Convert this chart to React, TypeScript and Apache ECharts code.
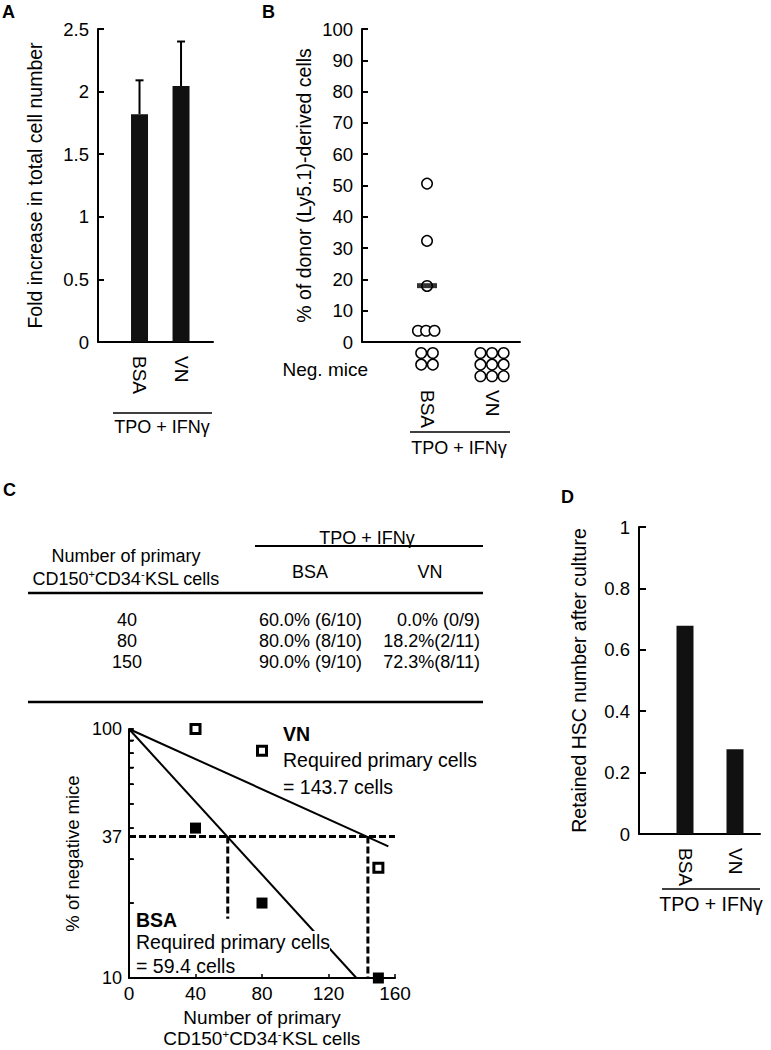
import React, { useEffect, useRef } from "react";
import * as echarts from "echarts";

const FONT = "'Liberation Sans', Arial, Helvetica, sans-serif";

// ---------- Panel A ----------
const catsA = ["BSA", "VN"];
const foldMean = [1.82, 2.045];
const foldSD = [0.27, 0.355];

// ---------- Panel B ----------
const catsB = ["BSA", "VN"];
const donorBSA = [50.6, 32.3, 17.9, 3.6, 3.6, 3.6];
const donorBSAJitter = [0, 0, 0, -0.14, -0.015, 0.115];
const donorBSAMedian = [18.0];
const negMice = [4, 9];

// ---------- Panel C (table) ----------
const cellDoses = [40, 80, 150];
const tableBSA = ["60.0% (6/10)", "80.0% (8/10)", "90.0% (9/10)"];
const tableVN = ["0.0% (0/9)", "18.2%(2/11)", "72.3%(8/11)"];

// ---------- Panel C (limiting dilution plot) ----------
const bsaNegPct = [40, 20, 10];
const vnNegPct = [100, 81.8, 27.7];
const bsaFit = [[0, 100], [136.8, 10]];
const vnFit = [[0, 100], [156, 33.8]];
const bsaRequired = 59.4;
const vnRequired = 143.7;
const level37 = 37;
const bsaDropEnd = 17.3;
const yTicksC = [10, 20, 30, 37, 40, 50, 60, 70, 80, 90, 100];
const yLabelsC = [10, 37, 100];

// ---------- Panel D ----------
const catsD = ["BSA", "VN"];
const retained = [0.678, 0.276];

const BLACK = "#000";
const lineStyle2 = { color: BLACK, width: 2 };

function yAxisBase(extra: any) {
  return {
    type: "value",
    axisLine: { show: true, lineStyle: lineStyle2 },
    axisTick: { show: true, inside: true, length: 6, lineStyle: lineStyle2 },
    axisLabel: { fontSize: 18.5, color: BLACK, margin: 9, fontFamily: FONT },
    splitLine: { show: false },
    nameLocation: "middle",
    nameRotate: 90,
    nameTextStyle: { fontSize: 19.5, color: BLACK, fontFamily: FONT },
    ...extra,
  };
}

function catXAxis(gridIndex: number, cats: string[], min: number, max: number, margin: number) {
  return {
    gridIndex,
    type: "value",
    min,
    max,
    axisLine: { show: true, onZero: false, lineStyle: lineStyle2 },
    axisTick: { show: false },
    splitLine: { show: false },
    axisLabel: {
      customValues: cats.map((_, i) => i + 1),
      formatter: (v: number) => cats[Math.round(v) - 1] ?? "",
      rotate: -90,
      margin,
      fontSize: 19,
      color: BLACK,
      fontFamily: FONT,
    },
  };
}

function txt(text: string, x: number, y: number, opts: any = {}) {
  const { size = 18, weight = "normal", align = "left", vAlign = "middle", bg, rich } = opts;
  return {
    type: "text",
    z: 100,
    style: {
      text,
      x,
      y,
      fill: BLACK,
      fontSize: size,
      fontWeight: weight,
      fontFamily: FONT,
      align,
      verticalAlign: vAlign,
      backgroundColor: bg,
      padding: bg ? [1, 0, 1, 0] : undefined,
      rich,
    },
  };
}

function hline(x1: number, x2: number, y: number, w = 1.6) {
  return {
    type: "line",
    z: 100,
    shape: { x1, y1: y, x2, y2: y },
    style: { stroke: BLACK, lineWidth: w },
  };
}

export default function App() {
  const ref = useRef<HTMLDivElement>(null);

  useEffect(() => {
    if (!ref.current) return;
    const chart = echarts.init(ref.current, undefined, { renderer: "svg" });

    const supRich = {
      n: { fontSize: 18, fontFamily: FONT, color: BLACK, lineHeight: 21 },
      s: { fontSize: 11, fontFamily: FONT, color: BLACK, verticalAlign: "top", lineHeight: 21 },
    };
    const supRichC = {
      n: { fontSize: 19, fontFamily: FONT, color: BLACK, lineHeight: 21 },
      s: { fontSize: 11.5, fontFamily: FONT, color: BLACK, verticalAlign: "top", lineHeight: 21 },
    };
    const cellLabelRich = "{n|CD150}{s|+}{n|CD34}{s|-}{n|KSL cells}";

    const graphics: any[] = [
      // panel letters
      txt("A", 2, 12, { size: 18, weight: "bold" }),
      txt("B", 262, 12, { size: 18, weight: "bold" }),
      txt("C", 3, 490, { size: 18, weight: "bold" }),
      txt("D", 561, 497, { size: 18, weight: "bold" }),
      // A bracket
      hline(113, 212, 413),
      txt("TPO + IFNγ", 162, 427, { size: 18, align: "center" }),
      // B bracket
      hline(410, 510, 432),
      txt("TPO + IFNγ", 459, 448, { size: 18, align: "center" }),
      txt("Neg. mice", 368, 369, { size: 19, align: "right" }),
      // D bracket
      hline(662, 760, 889),
      txt("TPO + IFNγ", 711, 904, { size: 19.5, align: "center" }),
      // Table
      txt("TPO + IFNγ", 367, 538, { size: 18, align: "center" }),
      hline(255, 483, 546, 2),
      txt("Number of primary", 126, 556, { size: 18, align: "center" }),
      txt(cellLabelRich, 126, 579, { size: 18, align: "center", rich: supRich }),
      txt("BSA", 310, 572, { size: 18, align: "center" }),
      txt("VN", 430, 572, { size: 18, align: "center" }),
      hline(28, 483, 593, 2.6),
      hline(28, 483, 702, 2.6),
      // C plot annotations
      txt("VN", 283, 734, { size: 19.5, weight: "bold" }),
      txt("Required primary cells", 283, 760, { size: 19.5 }),
      txt(`= ${vnRequired} cells`, 283, 787, { size: 19.5 }),
      txt("BSA", 136, 920, { size: 19.5, weight: "bold" }),
      txt("Required primary cells", 136, 942, { size: 19.5, bg: "#fff" }),
      txt(`= ${bsaRequired} cells`, 136, 966, { size: 19.5 }),
    ];
    cellDoses.forEach((d, i) => {
      const y = 620 + i * 21;
      graphics.push(txt(String(d), 127, y, { size: 18, align: "center" }));
      graphics.push(txt(tableBSA[i], 362, y, { size: 18, align: "right" }));
      graphics.push(txt(tableVN[i], 480, y, { size: 18, align: "right" }));
    });

    const dashStyle = { color: BLACK, width: 3, type: [7, 3] as any };

    const option: any = {
      animation: false,
      backgroundColor: "#fff",
      textStyle: { fontFamily: FONT, color: BLACK },
      grid: [
        { left: 98, top: 29, width: 115, height: 313 },
        { left: 362, top: 29, width: 158, height: 313 },
        { left: 129, top: 729, width: 266, height: 251 },
        { left: 639, top: 527, width: 121, height: 307 },
      ],
      xAxis: [
        catXAxis(0, catsA, 0, 2.77, 14),
        catXAxis(1, catsB, 0, 2.43, 48),
        {
          gridIndex: 2,
          type: "value",
          min: 0,
          max: 160,
          interval: 40,
          axisLine: { show: true, onZero: false, lineStyle: lineStyle2 },
          axisTick: { show: true, inside: true, length: 4, lineStyle: { color: BLACK, width: 1.5 } },
          splitLine: { show: false },
          axisLabel: { fontSize: 19, color: BLACK, margin: 6, fontFamily: FONT },
          name: "Number of primary\n" + cellLabelRich,
          nameLocation: "middle",
          nameGap: 29,
          nameTextStyle: { fontSize: 19, color: BLACK, fontFamily: FONT, lineHeight: 21, rich: supRichC },
        },
        catXAxis(3, catsD, 0.08, 2.5, 14),
      ],
      yAxis: [
        yAxisBase({ gridIndex: 0, min: 0, max: 2.5, interval: 0.5, name: "Fold increase in total cell number", nameGap: 53 }),
        yAxisBase({ gridIndex: 1, min: 0, max: 100, interval: 10, name: "% of donor (Ly5.1)-derived cells", nameGap: 48 }),
        {
          gridIndex: 2,
          type: "log",
          logBase: 10,
          min: 10,
          max: 100,
          axisLine: { show: true, onZero: false, lineStyle: lineStyle2 },
          axisTick: { show: true, inside: true, length: 4, customValues: yTicksC, lineStyle: { color: BLACK, width: 1.5 } },
          minorTick: { show: false },
          splitLine: { show: false },
          axisLabel: {
            customValues: yLabelsC,
            formatter: (v: number) => String(Math.round(v)),
            fontSize: 18,
            color: BLACK,
            margin: 7,
            fontFamily: FONT,
          },
          name: "% of negative mice",
          nameLocation: "middle",
          nameRotate: 90,
          nameGap: 47,
          nameTextStyle: { fontSize: 18.5, color: BLACK, fontFamily: FONT },
        },
        yAxisBase({ gridIndex: 3, min: 0, max: 1, interval: 0.2, name: "Retained HSC number after culture", nameGap: 50, axisTick: { show: true, inside: true, length: 7, lineStyle: lineStyle2 } }),
      ],
      series: [
        // Panel A bars
        {
          type: "bar",
          xAxisIndex: 0,
          yAxisIndex: 0,
          barWidth: 17,
          itemStyle: { color: "#111" },
          data: foldMean.map((v, i) => [i + 1, v]),
        },
        // Panel A error bars
        {
          type: "custom",
          xAxisIndex: 0,
          yAxisIndex: 0,
          z: 3,
          data: foldMean.map((v, i) => [i + 1, v, v + foldSD[i]]),
          renderItem: (_p: any, api: any) => {
            const x = api.value(0);
            const lo = api.coord([x, api.value(1)]);
            const hi = api.coord([x, api.value(2)]);
            return {
              type: "group",
              children: [
                { type: "line", shape: { x1: lo[0], y1: lo[1], x2: hi[0], y2: hi[1] }, style: { stroke: BLACK, lineWidth: 2 } },
                { type: "line", shape: { x1: hi[0] - 4, y1: hi[1], x2: hi[0] + 4, y2: hi[1] }, style: { stroke: BLACK, lineWidth: 2 } },
              ],
            };
          },
        },
        // Panel B individual mice
        {
          type: "scatter",
          xAxisIndex: 1,
          yAxisIndex: 1,
          symbol: "circle",
          symbolSize: 10.5,
          itemStyle: { color: "#fff", borderColor: BLACK, borderWidth: 1.5, opacity: 1 },
          data: donorBSA.map((v, i) => [1 + donorBSAJitter[i], v]),
          z: 2,
        },
        // Panel B median
        {
          type: "scatter",
          xAxisIndex: 1,
          yAxisIndex: 1,
          symbol: "rect",
          symbolSize: [20, 5],
          itemStyle: { color: BLACK },
          data: donorBSAMedian.map((v) => [1, v]),
          z: 4,
        },
        // Panel B negative mice
        {
          type: "custom",
          xAxisIndex: 1,
          yAxisIndex: 1,
          clip: false,
          data: negMice.map((n, i) => [i + 1, n]),
          renderItem: (_p: any, api: any) => {
            const x = api.value(0);
            const n = api.value(1);
            const cols = Math.ceil(Math.sqrt(n));
            const base = api.coord([x, 0]);
            const sp = 11.6;
            const children: any[] = [];
            for (let k = 0; k < n; k++) {
              const row = Math.floor(k / cols);
              const col = k % cols;
              children.push({
                type: "circle",
                shape: { cx: base[0] + (col - (cols - 1) / 2) * sp, cy: base[1] + 11 + row * sp, r: 5.3 },
                style: { fill: "#fff", stroke: BLACK, lineWidth: 1.5 },
              });
            }
            return { type: "group", children };
          },
        },
        // Panel C log-axis tick marks (drawn through the axis scale)
        {
          type: "custom",
          xAxisIndex: 2,
          yAxisIndex: 2,
          clip: false,
          silent: true,
          data: yTicksC.map((v) => [0, v]),
          renderItem: (_p: any, api: any) => {
            const pt = api.coord([0, api.value(1)]);
            return {
              type: "line",
              shape: { x1: pt[0], y1: pt[1], x2: pt[0] + 5, y2: pt[1] },
              style: { stroke: BLACK, lineWidth: 1.6 },
            };
          },
          z: 6,
        },
        // Panel C fit lines
        {
          type: "line",
          xAxisIndex: 2,
          yAxisIndex: 2,
          showSymbol: false,
          lineStyle: { color: BLACK, width: 2 },
          data: bsaFit,
          z: 2,
        },
        {
          type: "line",
          xAxisIndex: 2,
          yAxisIndex: 2,
          showSymbol: false,
          lineStyle: { color: BLACK, width: 2 },
          data: vnFit,
          z: 2,
        },
        // Panel C dashed guides
        {
          type: "line",
          xAxisIndex: 2,
          yAxisIndex: 2,
          showSymbol: false,
          lineStyle: dashStyle,
          data: [[0, level37], [160, level37]],
          z: 2,
        },
        {
          type: "line",
          xAxisIndex: 2,
          yAxisIndex: 2,
          showSymbol: false,
          lineStyle: dashStyle,
          data: [[bsaRequired, level37], [bsaRequired, bsaDropEnd]],
          z: 2,
        },
        {
          type: "line",
          xAxisIndex: 2,
          yAxisIndex: 2,
          showSymbol: false,
          lineStyle: dashStyle,
          data: [[vnRequired, level37], [vnRequired, 10]],
          z: 2,
        },
        // Panel C VN squares (open)
        {
          type: "scatter",
          xAxisIndex: 2,
          yAxisIndex: 2,
          symbol: "rect",
          symbolSize: 9,
          itemStyle: { color: "#fff", borderColor: BLACK, borderWidth: 3, opacity: 1 },
          data: cellDoses.map((d, i) => [d, vnNegPct[i]]),
          z: 5,
        },
        // Panel C BSA squares (filled)
        {
          type: "scatter",
          xAxisIndex: 2,
          yAxisIndex: 2,
          symbol: "rect",
          symbolSize: 11,
          itemStyle: { color: BLACK, opacity: 1 },
          data: cellDoses.map((d, i) => [d, bsaNegPct[i]]),
          z: 5,
        },
        // Panel D bars
        {
          type: "bar",
          xAxisIndex: 3,
          yAxisIndex: 3,
          barWidth: 17,
          itemStyle: { color: "#111" },
          data: retained.map((v, i) => [i + 1, v]),
        },
      ],
      graphic: graphics,
    };

    chart.setOption(option);
    return () => chart.dispose();
  }, []);

  return (
    <div
      ref={ref}
      style={{ position: "absolute", left: 0, top: 0, width: 771, height: 1050, background: "#fff" }}
    />
  );
}
